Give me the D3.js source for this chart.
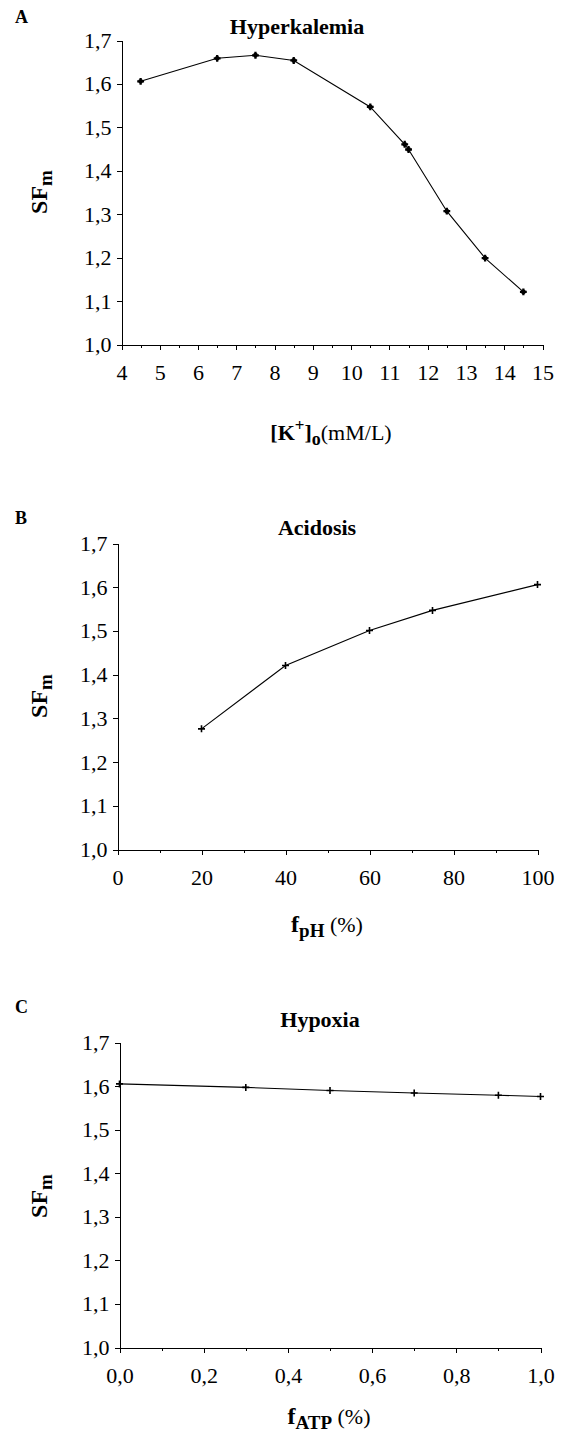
<!DOCTYPE html>
<html>
<head>
<meta charset="utf-8">
<script src="https://cdn.jsdelivr.net/npm/d3@7"></script>
<style>
    body { margin: 0; background: #fff; }
    svg { display: block; }
    text { font-family: "Liberation Serif", "Times New Roman", serif; fill: #000; }
    .axis path, .axis line { stroke: #000; stroke-width: 1; shape-rendering: crispEdges; }
    .axis text { font-size: 22px; font-family: "Liberation Serif", "Times New Roman", serif; }
    .title { font-size: 22px; font-weight: bold; }
    .panel-letter { font-size: 18px; font-weight: bold; }
</style>
</head>
<body>
<div id="vis"></div>
<script>
/* Data */
var kValues = [4.5, 6.5, 7.5, 8.5, 10.5, 11.4, 11.5, 12.5, 13.5, 14.5];
var sfHyperkalemia = [1.606, 1.659, 1.666, 1.654, 1.547, 1.461, 1.449, 1.307, 1.199, 1.121];

var phValues = [20, 40, 60, 75, 100];
var sfAcidosis = [1.276, 1.421, 1.501, 1.547, 1.606];

var atpValues = [0, 0.3, 0.5, 0.7, 0.9, 1.0];
var sfHypoxia = [1.605, 1.597, 1.590, 1.584, 1.579, 1.576];

var yTicks = [1.0, 1.1, 1.2, 1.3, 1.4, 1.5, 1.6, 1.7];
var kTicks = [4, 5, 6, 7, 8, 9, 10, 11, 12, 13, 14, 15];
var kMinor = d3.range(4.5, 15, 1);
var phTicks = [0, 20, 40, 60, 80, 100];
var phMinor = [10, 30, 50, 70, 90];
var atpTicks = [0, 0.2, 0.4, 0.6, 0.8, 1.0];
var atpMinor = [0.1, 0.3, 0.5, 0.7, 0.9];

var width = 564, height = 1437;

var svg = d3.select('#vis').append('svg').attr('width', width).attr('height', height);

var comma = function (f) {
    return function (d) { return d3.format(f)(d).replace('.', ','); };
};

/* panel layout */
var panels = [
    {
        letter: 'A', letterY: 23, title: 'Hyperkalemia', titleX: 297, titleY: 34,
        xs: kValues, ys: sfHyperkalemia, xDomain: [4, 15], xRange: [121.5, 542.5], yRange: [344.5, 40.5],
        major: kTicks, minor: kMinor, xFmt: d3.format('d'), yLabelY: 192,
        marker: 'filled', xTitle: 'k', xTitleX: 331, xTitleY: 440
    },
    {
        letter: 'B', letterY: 524, title: 'Acidosis', titleX: 317, titleY: 535,
        xs: phValues, ys: sfAcidosis, xDomain: [0, 100], xRange: [117.5, 537.5], yRange: [849.5, 543.5],
        major: phTicks, minor: phMinor, xFmt: d3.format('d'), yLabelY: 696,
        marker: 'plus', xTitle: 'pH', xTitleX: 327, xTitleY: 932
    },
    {
        letter: 'C', letterY: 1013, title: 'Hypoxia', titleX: 320, titleY: 1027,
        xs: atpValues, ys: sfHypoxia, xDomain: [0, 1], xRange: [119.5, 540.5], yRange: [1347.5, 1042.5],
        major: atpTicks, minor: atpMinor, xFmt: comma('.1f'), yLabelY: 1196,
        marker: 'plus', xTitle: 'ATP', xTitleX: 329, xTitleY: 1424
    }
];

panels.forEach(function (p) {
    var xScale = d3.scaleLinear().domain(p.xDomain).range(p.xRange);
    var yScale = d3.scaleLinear().domain([1.0, 1.7]).range(p.yRange);
    var g = svg.append('g');

    /* letter + title */
    g.append('text').attr('class', 'panel-letter').attr('x', 15).attr('y', p.letterY).text(p.letter);
    g.append('text').attr('class', 'title').attr('x', p.titleX).attr('y', p.titleY)
        .attr('text-anchor', 'middle').text(p.title);

    /* axes */
    var y0 = p.yRange[0];
    g.append('g').attr('class', 'axis')
        .attr('transform', 'translate(0,' + y0 + ')')
        .call(d3.axisBottom(xScale).tickValues(p.minor).tickSize(3).tickSizeOuter(0).tickFormat(''))
        .select('.domain').remove();
    g.append('g').attr('class', 'axis')
        .attr('transform', 'translate(0,' + y0 + ')')
        .call(d3.axisBottom(xScale).tickValues(p.major).tickSize(5).tickSizeOuter(0).tickPadding(15).tickFormat(p.xFmt));
    g.append('g').attr('class', 'axis')
        .attr('transform', 'translate(' + p.xRange[0] + ',0)')
        .call(d3.axisLeft(yScale).tickValues(yTicks).tickSize(5).tickSizeOuter(0).tickPadding(5).tickFormat(comma('.1f')));

    /* y axis title SFm */
    var yt = g.append('text')
        .attr('transform', 'translate(47,' + p.yLabelY + ') rotate(-90)')
        .attr('text-anchor', 'middle')
        .style('font-weight', 'bold');
    yt.append('tspan').style('font-size', '24px').text('SF');
    yt.append('tspan').style('font-size', '19px').attr('dy', 5).text('m');

    /* x axis title */
    var xt = g.append('text').attr('x', p.xTitleX).attr('y', p.xTitleY).attr('text-anchor', 'middle');
    if (p.xTitle === 'k') {
        xt.append('tspan').style('font-weight', 'bold').style('font-size', '22px').text('[K');
        xt.append('tspan').style('font-weight', 'bold').style('font-size', '17px').attr('dy', -9).text('+');
        xt.append('tspan').style('font-weight', 'bold').style('font-size', '22px').attr('dy', 9).text(']');
        xt.append('tspan').style('font-weight', 'bold').style('font-size', '18px').attr('dy', 5).text('o');
        xt.append('tspan').style('font-size', '22px').attr('dy', -5).text('(mM/L)');
    } else {
        xt.append('tspan').style('font-weight', 'bold').style('font-size', '24px').text('f');
        xt.append('tspan').style('font-weight', 'bold').style('font-size', '19px').attr('dy', 5).text(p.xTitle);
        xt.append('tspan').style('font-size', '22px').attr('dy', -5).text('\u00a0(%)');
    }

    /* line */
    var pts = p.xs.map(function (d, i) { return [d, p.ys[i]]; });
    var line = d3.line()
        .x(function (d) { return xScale(d[0]); })
        .y(function (d) { return yScale(d[1]); });
    g.append('path').datum(pts)
        .attr('d', line)
        .attr('fill', 'none')
        .attr('stroke', '#000')
        .attr('stroke-width', 1.1);

    /* markers */
    var m = g.append('g').selectAll('g').data(pts).enter().append('g')
        .attr('transform', function (d) { return 'translate(' + xScale(d[0]) + ',' + yScale(d[1]) + ')'; });
    if (p.marker === 'filled') {
        m.append('path').attr('d', d3.symbol().type(d3.symbolCross).size(26)).attr('fill', '#000');
        m.append('circle').attr('r', 2.4).attr('fill', '#000');
    } else {
        m.append('path').attr('d', 'M-3.5,0H3.5M0,-3.5V3.5').attr('stroke', '#000').attr('stroke-width', 1.6);
    }
});
</script>
</body>
</html>
